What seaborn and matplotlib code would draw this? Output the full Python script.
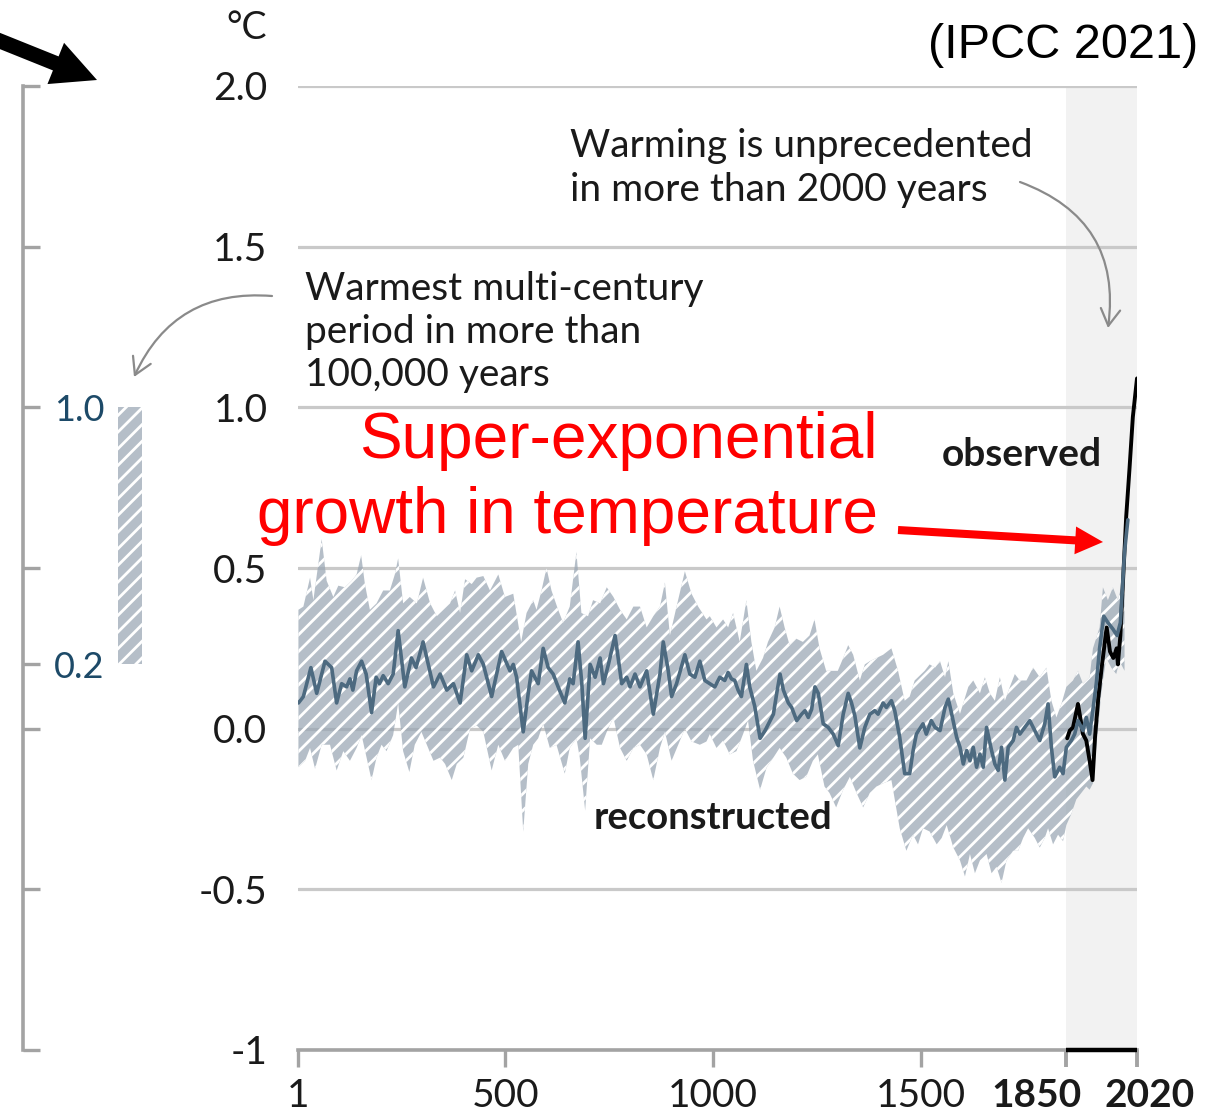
import numpy as np
import pandas as pd
import matplotlib
matplotlib.use("Agg")
import matplotlib.pyplot as plt
from matplotlib.transforms import ScaledTranslation
import seaborn as sns

# ---------------- data ----------------
recon_years = [2, 14, 32, 46, 66, 82, 94, 106, 118, 126, 133, 142, 154, 165, 178, 189, 197, 206, 218, 230,
               242, 258, 274, 285, 302, 327, 343, 359, 375, 391, 407, 419, 435, 447, 467, 491,
               511, 519, 527, 543, 555, 563, 571, 579, 591, 603, 615, 627, 643, 655, 663, 675, 684, 692, 704, 716,
               728, 736, 748, 764, 780, 792, 800, 812, 824, 840, 856, 872, 880, 892, 900, 912, 932, 944, 956, 968, 980,
               992, 1004, 1016, 1028, 1036, 1044, 1052, 1060, 1068, 1080, 1088, 1100, 1113, 1125, 1137, 1145, 1153,
               1161, 1169, 1181, 1189, 1201, 1213, 1221, 1229, 1237, 1245, 1253, 1265, 1277, 1289, 1301, 1313, 1325,
               1333, 1341, 1353, 1365, 1377, 1389, 1397, 1409, 1417, 1429, 1437, 1449, 1461, 1473, 1481, 1489,
               1505, 1513, 1525, 1534, 1546, 1558, 1566, 1574, 1586, 1594, 1602, 1610, 1618, 1626, 1634, 1642, 1650,
               1658, 1670, 1678, 1686, 1694, 1702, 1710, 1722, 1730, 1738, 1750, 1762, 1774, 1786, 1798, 1806, 1814,
               1822, 1834, 1842, 1850, 1862, 1870, 1878, 1890, 1898, 1906, 1914, 1922, 1930, 1940, 1950, 1962, 1972,
               1980, 1990, 1998]
recon_values = [0.08, 0.10, 0.19, 0.11, 0.21, 0.19, 0.08, 0.14, 0.13, 0.155, 0.12, 0.18, 0.21, 0.17, 0.05, 0.16,
                0.14, 0.165, 0.14, 0.17, 0.305, 0.13, 0.22, 0.19, 0.27, 0.13, 0.17, 0.12, 0.14, 0.08, 0.23, 0.18,
                0.23, 0.20, 0.10, 0.24,
                0.18, 0.20, 0.16, -0.01, 0.11, 0.18, 0.16, 0.14, 0.25, 0.19, 0.17, 0.13, 0.08, 0.155, 0.14, 0.27,
                0.14, -0.03, 0.20, 0.16, 0.22, 0.14, 0.20, 0.29, 0.14, 0.16, 0.13, 0.17, 0.13, 0.18, 0.045, 0.17,
                0.27, 0.18, 0.10, 0.14, 0.23, 0.17, 0.16, 0.21, 0.15,
                0.14, 0.13, 0.16, 0.15, 0.175, 0.155, 0.15, 0.12, 0.10, 0.20, 0.13, 0.07, -0.03, -0.006, 0.025,
                0.045, 0.11, 0.17, 0.12, 0.08, 0.066, 0.025, 0.045, 0.056, 0.035, 0.06, 0.13, 0.11, 0.015, 0.004,
                -0.017, -0.053, 0.045, 0.11, 0.08, 0.04, -0.06, 0.004, 0.045, 0.056, 0.045, 0.08, 0.066, 0.087,
                0.056, -0.027, -0.14, -0.14, -0.07, -0.017,
                0.015, -0.017, 0.025, 0.004, -0.006, 0.066, 0.092, 0.046, -0.027, -0.058, -0.11, -0.068, -0.10,
                -0.058, -0.12, -0.079, -0.12, 0.004, -0.068, -0.11, -0.13, -0.058, -0.16, -0.058, -0.037, 0.004,
                -0.017, 0.004, 0.025, -0.006, -0.037, 0.015, 0.077, -0.058, -0.15, -0.12, -0.14, -0.058, -0.037,
                -0.017, 0.025, -0.006, 0.035, -0.017, 0.06, 0.14, 0.25, 0.35, 0.33, 0.31, 0.29, 0.33, 0.55, 0.65]

upper_years = [2, 14, 30, 38, 58, 70, 86, 98, 114, 130, 142, 153, 162, 174, 190, 206, 222, 234, 242, 254,
               270, 287, 302, 319, 335, 351, 367, 379, 391, 403, 419, 431, 447, 463, 483, 499,
               519, 538, 551, 567, 575, 587, 599, 611, 627, 639, 655, 671, 683, 699, 711, 728, 744, 760, 776, 792,
               808, 824, 840, 856, 872, 884, 896, 912, 932, 948, 964, 984,
               992, 1008, 1024, 1036, 1048, 1064, 1080, 1092, 1104, 1120, 1132, 1148, 1160, 1172, 1184, 1200, 1216,
               1232, 1244, 1256, 1272, 1288, 1300, 1313, 1325, 1337, 1353, 1365, 1377, 1393, 1409, 1429, 1445, 1461,
               1473, 1485, 1501,
               1509, 1521, 1534, 1546, 1558, 1566, 1578, 1594, 1614, 1626, 1642, 1654, 1666, 1678, 1690, 1702, 1714,
               1726, 1738, 1754, 1770, 1786, 1802, 1814, 1826, 1838, 1850, 1866, 1878, 1890, 1898, 1906, 1914, 1930,
               1938, 1950, 1962, 1974, 1982, 1990]
upper_values = [0.37, 0.38, 0.47, 0.40, 0.59, 0.46, 0.41, 0.445, 0.44, 0.46, 0.48, 0.54, 0.45, 0.37, 0.39, 0.43,
                0.43, 0.48, 0.53, 0.39, 0.41, 0.39, 0.47, 0.39, 0.35, 0.37, 0.39, 0.43, 0.36, 0.465, 0.45, 0.47,
                0.475, 0.43, 0.48, 0.41,
                0.42, 0.27, 0.36, 0.40, 0.37, 0.43, 0.50, 0.43, 0.37, 0.33, 0.38, 0.55, 0.36, 0.35, 0.40, 0.39,
                0.44, 0.41, 0.37, 0.34, 0.38, 0.38, 0.315, 0.35, 0.38, 0.455, 0.29, 0.38, 0.49, 0.42, 0.38, 0.34,
                0.35, 0.315, 0.34, 0.315, 0.36, 0.27, 0.40, 0.27, 0.18, 0.22, 0.27, 0.315, 0.38, 0.315, 0.26, 0.28,
                0.27, 0.29, 0.34, 0.25, 0.18, 0.18, 0.18, 0.22, 0.26, 0.23, 0.15, 0.20, 0.21, 0.22, 0.23, 0.25,
                0.18, 0.087, 0.10, 0.15, 0.17,
                0.18, 0.20, 0.19, 0.21, 0.16, 0.21, 0.11, 0.046, 0.13, 0.15, 0.11, 0.16, 0.11, 0.087, 0.16, 0.087,
                0.13, 0.17, 0.15, 0.15, 0.19, 0.16, 0.19, 0.087, 0.035, 0.077, 0.13, 0.15, 0.18, 0.14, 0.15, 0.16,
                0.25, 0.315, 0.44, 0.40, 0.44, 0.40, 0.44, 0.46]

lower_years = [2, 18, 30, 42, 58, 78, 94, 110, 126, 142, 154, 166, 178, 190, 202, 214, 230, 242, 254, 269,
               282, 298, 311, 327, 343, 355, 371, 383, 399, 415, 431, 447, 467, 483, 499,
               519, 531, 543, 555, 567, 579, 591, 607, 623, 643, 655, 671, 679, 692, 704, 720, 732, 744, 760, 776,
               792, 808, 824, 840, 856, 872, 884, 900, 916, 932, 948, 968, 984,
               992, 1008, 1024, 1040, 1056, 1072, 1084, 1096, 1113, 1129, 1145, 1160, 1176, 1192, 1208, 1224, 1240,
               1252, 1268, 1280, 1296, 1313, 1329, 1345, 1361, 1377, 1393, 1409, 1429, 1449, 1465, 1481, 1493, 1505,
               1521,
               1538, 1550, 1562, 1578, 1594, 1606, 1618, 1630, 1642, 1658, 1670, 1682, 1694, 1706, 1722, 1734, 1746,
               1758, 1774, 1786, 1798, 1806, 1818, 1830, 1842, 1850, 1862, 1874, 1886, 1898, 1906, 1914, 1922, 1934,
               1946, 1958, 1970, 1978, 1990]
lower_values = [-0.12, -0.10, -0.06, -0.125, -0.05, -0.05, -0.13, -0.07, -0.10, -0.06, -0.02, -0.09, -0.16,
                -0.09, -0.05, -0.07, -0.02, 0.08, -0.07, -0.135, -0.05, -0.01, -0.05, -0.10, -0.09, -0.11, -0.16,
                -0.11, -0.09, 0.0, 0.01, -0.01, -0.13, -0.05, -0.10,
                -0.06, -0.05, -0.32, -0.11, -0.05, -0.03, 0.015, -0.06, -0.05, -0.14, -0.06, -0.03, -0.09, -0.255,
                -0.03, -0.05, -0.05, -0.01, 0.035, -0.06, -0.10, -0.06, -0.05, -0.08, -0.16, -0.06, -0.01, -0.10,
                -0.05, 0.0, -0.04, -0.05, -0.04,
                -0.017, -0.06, -0.037, -0.08, -0.07, -0.017, 0.025, -0.10, -0.19, -0.12, -0.09, -0.06, -0.09,
                -0.14, -0.16, -0.15, -0.10, -0.08, -0.18, -0.20, -0.245, -0.19, -0.15, -0.20, -0.245, -0.20, -0.18,
                -0.17, -0.16, -0.31, -0.38, -0.33, -0.36, -0.31, -0.32,
                -0.36, -0.34, -0.30, -0.37, -0.41, -0.46, -0.39, -0.45, -0.41, -0.39, -0.45, -0.43, -0.48, -0.41,
                -0.38, -0.38, -0.34, -0.31, -0.34, -0.37, -0.34, -0.31, -0.36, -0.33, -0.35, -0.30, -0.265, -0.22,
                -0.20, -0.18, -0.19, -0.17, -0.06, 0.11, 0.22, 0.19, 0.17, 0.21, 0.18]

obs_years = [1852, 1858, 1866, 1878, 1882, 1890, 1898, 1906, 1913, 1919, 1927, 1935, 1947, 1955, 1963, 1971,
             1974, 1980, 1986, 1994, 2002, 2010, 2020]
obs_values = [-0.03, -0.006, 0.004, 0.077, 0.046, -0.017, -0.037, -0.10, -0.16, -0.027, 0.097, 0.19, 0.315,
              0.24, 0.22, 0.25, 0.20, 0.29, 0.45, 0.66, 0.81, 0.97, 1.09]

yticks = [-1, -0.5, 0.0, 0.5, 1.0, 1.5, 2.0]
ytick_labels = ["-1", "-0.5", "0.0", "0.5", "1.0", "1.5", "2.0"]
xticks = [1, 500, 1000, 1500, 1850, 2020]
xtick_labels = ["1", "500", "1000", "1500", "1850", "2020"]
left_ticks = [-1, -0.5, 0.0, 0.2, 0.5, 1.0, 1.5, 2.0]
left_labels = ["", "", "", "0.2", "", "1.0", "", ""]
warm_period = [0.2, 1.0]

# ---------------- style ----------------
sns.set_theme(style="white")
plt.rcParams["font.family"] = ["Lato", "DejaVu Sans"]
plt.rcParams["hatch.linewidth"] = 2.0

W, H = 1222, 1116
fig = plt.figure(figsize=(W / 100, H / 100), dpi=100)


def fx(x):
    return x / W


def fy(y):
    return 1 - y / H


TEXT = "#1a1a1a"
GRID = "#c9c9c9"
AXG = "#a3a3a3"
TEAL = "#1d4a68"
BAND_FACE = (0.60, 0.65, 0.70, 0.72)
ARIAL = ["Liberation Sans", "DejaVu Sans"]

# ---------------- main axes ----------------
ax = fig.add_axes([fx(298), fy(1050), (1137 - 298) / W, (1050 - 86) / H])
ax.set_xlim(1, 2020)
ax.set_ylim(-1, 2)
ax.patch.set_visible(False)

ax.axvspan(xticks[4], xticks[5], color="#f2f2f2", lw=0, zorder=0)
ax.yaxis.grid(True, color=GRID, lw=2.3)
ax.xaxis.grid(False)
ax.set_axisbelow(True)

band_x = np.concatenate([upper_years, lower_years[::-1]])
band_y = np.concatenate([upper_values, lower_values[::-1]])
ax.fill(band_x, band_y, facecolor=BAND_FACE, edgecolor="white", hatch="//", lw=0, zorder=2)

obs_df = pd.DataFrame({"year": obs_years, "anomaly": obs_values})
rec_df = pd.DataFrame({"year": recon_years, "anomaly": recon_values})
sns.lineplot(data=obs_df, x="year", y="anomaly", color="black", lw=2.8, ax=ax, zorder=4)
sns.lineplot(data=rec_df, x="year", y="anomaly", color="#4d6a80", lw=2.6, ax=ax, zorder=5)
ax.set_xlabel("")
ax.set_ylabel("")

for s in ["top", "right", "left"]:
    ax.spines[s].set_visible(False)
ax.spines["bottom"].set_color(AXG)
ax.spines["bottom"].set_linewidth(2.6)

ax.set_yticks(yticks, ytick_labels)
ax.set_xticks(xticks, xtick_labels)
ax.tick_params(axis="y", left=False, length=0, pad=22, labelsize=28, labelcolor=TEXT)
ax.tick_params(axis="x", bottom=True, direction="out", length=12, width=2.4, color=AXG,
               pad=8, labelsize=28, labelcolor=TEXT)
xlabels = ax.get_xticklabels()
for lbl in xlabels[4:]:
    lbl.set_fontweight("bold")
xlabels[4].set_horizontalalignment("right")
xlabels[4].set_transform(xlabels[4].get_transform() + ScaledTranslation(0.15, 0, fig.dpi_scale_trans))
xlabels[5].set_horizontalalignment("left")
xlabels[5].set_transform(xlabels[5].get_transform() + ScaledTranslation(-0.32, 0, fig.dpi_scale_trans))
for t in ax.xaxis.get_major_ticks()[4:]:
    t.tick1line.set_color("black")
    t.tick1line.set_markeredgewidth(2.8)
ax.hlines(yticks[0], xticks[4], xticks[5], color="black", lw=3.2, zorder=6, clip_on=False)

# ---------------- left scale (warmest multi-century period) ----------------
ax2 = fig.add_axes([fx(23), fy(1050), (150 - 23) / W, (1050 - 86) / H])
ax2.set_ylim(-1, 2)
ax2.set_xlim(0, 1)
ax2.patch.set_visible(False)
for s in ["top", "bottom", "left"]:
    ax2.spines[s].set_visible(False)
ax2.spines["right"].set_position(("axes", 0))
ax2.spines["right"].set_color(AXG)
ax2.spines["right"].set_linewidth(2.6)
ax2.yaxis.tick_right()
ax2.set_yticks(left_ticks, left_labels)
ax2.set_xticks([])
ax2.tick_params(axis="y", right=True, left=False, direction="out", length=12, width=2.4, color=AXG,
                pad=10, labelsize=26, labelcolor=TEAL)
for t, lab in zip(ax2.yaxis.get_major_ticks(), left_labels):
    if lab:
        t.tick2line.set_color(TEAL)
ax2.bar([0.843], [warm_period[1] - warm_period[0]], bottom=warm_period[0], width=0.19,
        facecolor=BAND_FACE, edgecolor="white", hatch="//", lw=0)

# ---------------- texts ----------------
fig.text(fx(247), fy(28), "°C", ha="center", va="center", fontsize=27, color=TEXT)
fig.text(fx(1198), fy(45), "(IPCC 2021)", ha="right", va="center", fontsize=35, family=ARIAL, color="black")
fig.text(fx(570), fy(168), "Warming is unprecedented\nin more than 2000 years", ha="left", va="center",
         fontsize=28, color=TEXT, linespacing=1.25)
fig.text(fx(305), fy(332), "Warmest multi-century\nperiod in more than\n100,000 years", ha="left",
         va="center", fontsize=28, color=TEXT, linespacing=1.25)
fig.text(fx(1022), fy(455), "observed", ha="center", va="center", fontsize=28, fontweight="bold", color=TEXT)
fig.text(fx(713), fy(818), "reconstructed", ha="center", va="center", fontsize=27.5, fontweight="bold",
         color=TEXT)
fig.text(fx(878), fy(458), "Super-exponential", ha="right", va="baseline",
         fontsize=46, family=ARIAL, color="#ff0000")
fig.text(fx(878), fy(533), "growth in temperature", ha="right", va="baseline",
         fontsize=46, family=ARIAL, color="#ff0000")

# ---------------- arrows ----------------
ffrac = dict(xycoords="figure fraction", textcoords="figure fraction", annotation_clip=False)
ax.annotate("", xy=(fx(1103), fy(542)), xytext=(fx(898), fy(530)),
            arrowprops=dict(arrowstyle="simple,head_length=1.0,head_width=1.0,tail_width=0.29",
                            mutation_scale=20, lw=0, color="#ff0000", shrinkA=0, shrinkB=0), **ffrac)
ax.annotate("", xy=(fx(97), fy(80)), xytext=(fx(-5), fy(39)),
            arrowprops=dict(arrowstyle="simple,head_length=1.0,head_width=1.0,tail_width=0.34",
                            mutation_scale=32, lw=0, color="black", shrinkA=0, shrinkB=0), **ffrac)
ax.annotate("", xy=(fx(134), fy(377)), xytext=(fx(272), fy(296)),
            arrowprops=dict(arrowstyle="->,head_length=0.6,head_width=0.35", mutation_scale=20,
                            lw=1.6, color="#8a8a8a", shrinkA=0, shrinkB=0,
                            connectionstyle="arc3,rad=0.35"), **ffrac)
ax.annotate("", xy=(fx(1108), fy(328)), xytext=(fx(1020), fy(182)),
            arrowprops=dict(arrowstyle="->,head_length=0.6,head_width=0.35", mutation_scale=20,
                            lw=1.6, color="#8a8a8a", shrinkA=0, shrinkB=0,
                            connectionstyle="arc3,rad=-0.4"), **ffrac)

fig.savefig("out.png", dpi=100)
